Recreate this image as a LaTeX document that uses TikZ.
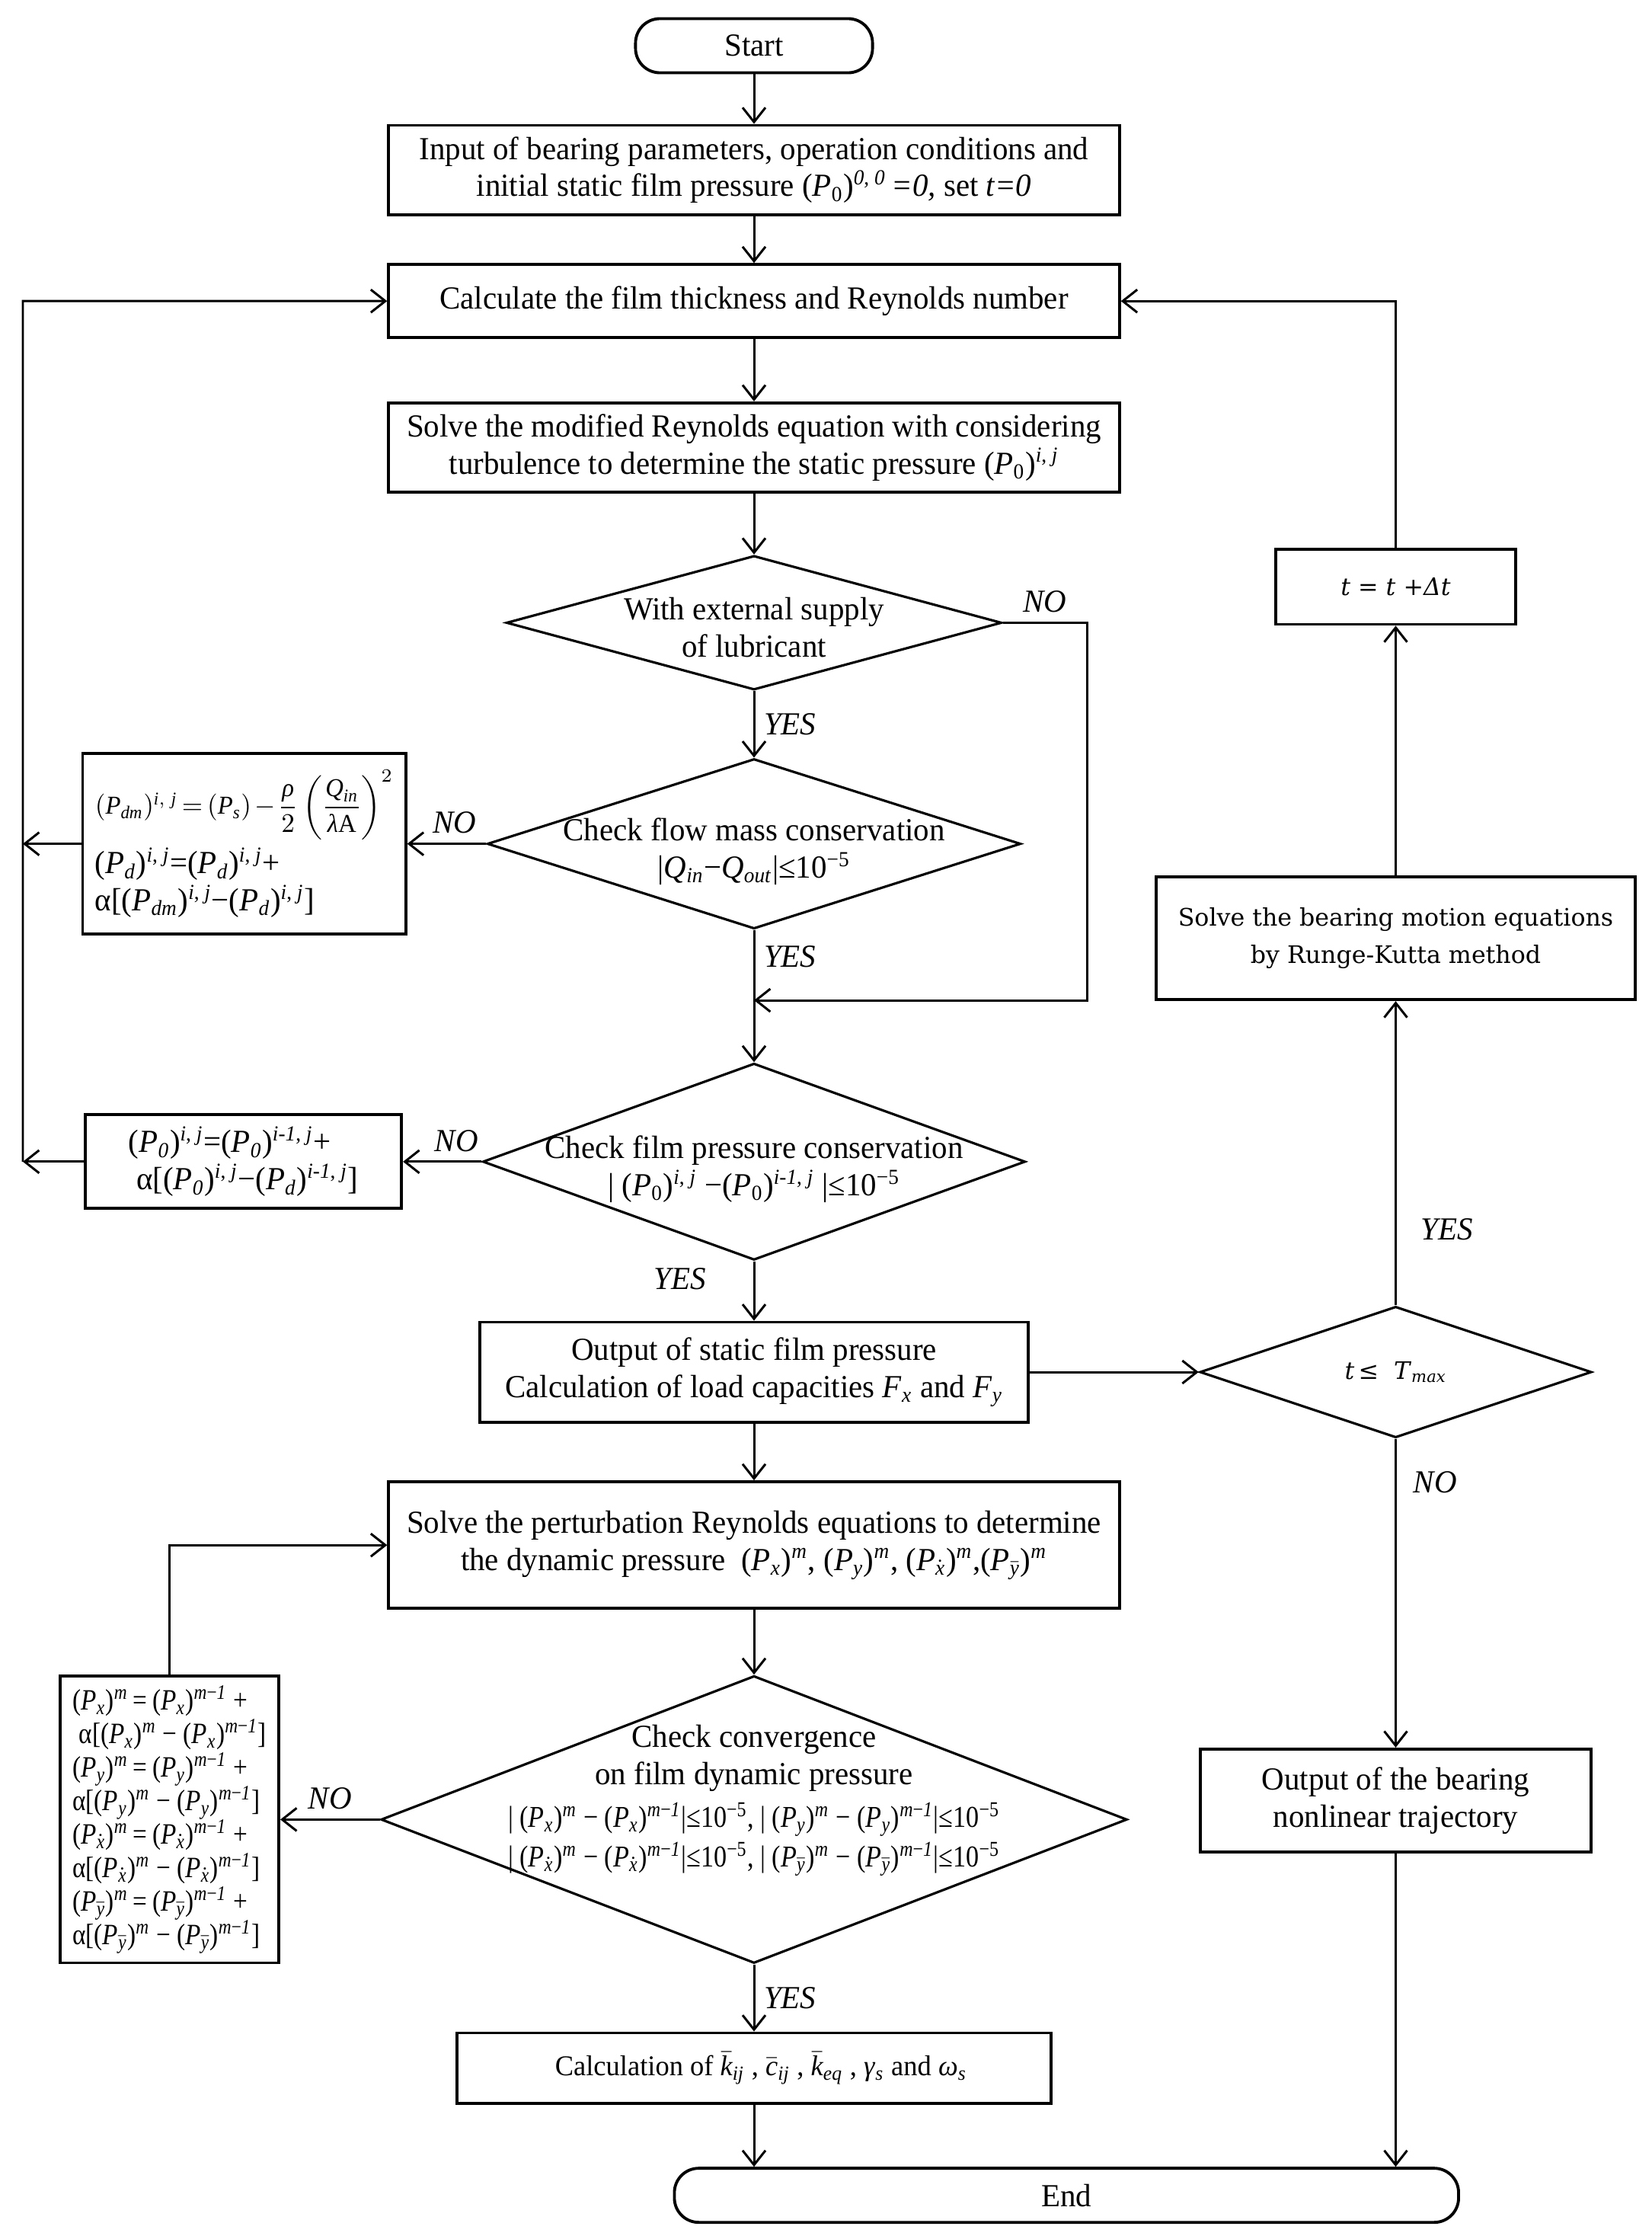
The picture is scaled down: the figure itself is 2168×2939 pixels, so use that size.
\documentclass[tikz,border=0pt]{standalone}
\usepackage{amsmath}
\usepackage{fontspec}
\setmainfont{Liberation Serif}[FakeStretch=0.97]
\newfontfamily\narrowfont{Liberation Serif}[FakeStretch=0.86]
\newfontfamily\rkfont{DejaVu Serif}
\usetikzlibrary{shapes.geometric,arrows.meta}

\newcommand{\mainsz}{\fontsize{12pt}{13.9pt}\selectfont}
\newcommand{\frmsz}{\narrowfont\fontsize{11.3pt}{15pt}\selectfont}
\newcommand{\Pp}[1]{(\textit{P}\textsubscript{#1})}
\newcommand{\xd}{$\dot{\textit{x}}$}
\newcommand{\yb}{$\bar{\textit{y}}$}
\newcommand{\supij}{\textsuperscript{\textit{i}, \textit{j}}}
\newcommand{\supimj}{\textsuperscript{\textit{i-1}, \textit{j}}}
\newcommand{\msup}{\textsuperscript{\textit{m}}}
\newcommand{\mmsup}{\textsuperscript{\textit{m}−\textit{1}}}

\begin{document}
\begin{tikzpicture}[->,>={Straight Barb[length=1.9mm,width=3mm]},x=0.01cm,y=-0.01cm,
  line width=0.85pt,font=\mainsz,
  box/.style={draw,-,line width=1.1pt,align=center,minimum width=9.59cm,minimum height=1.17cm,inner sep=2pt},
  term/.style={draw,-,line width=1.1pt,rounded corners=3.2mm,minimum height=0.71cm},
  decision/.style={draw,-,shape=diamond,line width=0.9pt,inner sep=0pt},
  dtext/.style={align=center,inner sep=0pt},
  lbl/.style={font=\mainsz\itshape}]

\useasboundingbox (0,0) rectangle (2168,2939);

% main column
\node[term,minimum width=3.11cm](start) at (990,60){Start};
\node[box](input)[node distance=1.63cm,below of=start]{Input of bearing parameters, operation conditions and\\
  initial static film pressure \Pp{0}\textsuperscript{\textit{0}, \textit{0}}\,\textit{=0,} set \textit{t=0}};
\node[box,minimum height=0.96cm](calc)[node distance=1.72cm,below of=input]{Calculate the film thickness and Reynolds number};
\node[box](solve)[node distance=1.92cm,below of=calc]{Solve the modified Reynolds equation with considering\\
  turbulence to determine the static pressure \Pp{0}\supij};
\node[decision,minimum width=6.5cm,minimum height=1.76cm](ext)[node distance=2.3cm,below of=solve]{};
\node[dtext](extt) at ([yshift=-0.6mm]ext){With external supply\\of lubricant};
\node[decision,minimum width=7cm,minimum height=2.23cm](flow)[node distance=2.9cm,below of=ext]{};
\node[dtext](flowt) at ([yshift=-1mm]flow){Check flow mass conservation\\
  |\textit{Q}\textsubscript{\textit{in}}−\textit{Q}\textsubscript{\textit{out}}|≤10\textsuperscript{−5}};
\node[decision,minimum width=7.12cm,minimum height=2.58cm](film)[node distance=4.17cm,below of=flow]{};
\node[dtext](filmt) at ([yshift=-1mm]film){Check film pressure conservation\\
  | \Pp{0}\supij\ −\Pp{0}\supimj\ |≤10\textsuperscript{−5}};
\node[box,minimum width=7.2cm,minimum height=1.31cm](stat)[node distance=2.76cm,below of=film]{Output of static film pressure\\
  Calculation of load capacities \textit{F}\textsubscript{\textit{x}} and \textit{F}\textsubscript{\textit{y}}};
\node[box,minimum height=1.66cm](pert)[node distance=2.27cm,below of=stat]{Solve the perturbation Reynolds equations to determine\\
  the dynamic pressure \ \Pp{\textit{x}}\msup, \Pp{\textit{y}}\msup, \Pp{\xd}\msup,\Pp{\yb}\msup};
\node[decision,minimum width=9.79cm,minimum height=3.77cm](conv)[node distance=3.6cm,below of=pert]{};
\node[dtext](convt) at ([yshift=2.5mm]conv){Check convergence\\on film dynamic pressure\\[2pt]
  {\frmsz | \Pp{\textit{x}}\msup\ − \Pp{\textit{x}}\mmsup|≤10\textsuperscript{−5}, | \Pp{\textit{y}}\msup\ − \Pp{\textit{y}}\mmsup|≤10\textsuperscript{−5}}\\[1pt]
  {\frmsz | \Pp{\xd}\msup\ − \Pp{\xd}\mmsup|≤10\textsuperscript{−5}, | \Pp{\yb}\msup\ − \Pp{\yb}\mmsup|≤10\textsuperscript{−5}}};
\node[box,minimum width=7.8cm,minimum height=0.92cm,font=\fontsize{10.7pt}{13pt}\selectfont](coef)[node distance=3.26cm,below of=conv]{\ \ Calculation of
  $\bar{\textit{k}}$\textsubscript{\textit{ij}} , $\bar{\textit{c}}$\textsubscript{\textit{ij}} , $\bar{\textit{k}}$\textsubscript{\textit{eq}} ,
  \textit{γ}\textsubscript{\textit{s}} and \textit{ω}\textsubscript{\textit{s}}};
\node[term,minimum width=10.29cm](end)[node distance=1.67cm,below of=coef,xshift=4.1cm]{End};

% left column
\node[box,align=left,minimum width=4.24cm,minimum height=2.37cm,inner sep=1pt](dmbox)[node distance=6.69cm,left of=flow]{%
  {\fontsize{9.6pt}{12pt}\selectfont\medmuskip=2mu\thickmuskip=3mu
  $(\textit{P}_{\textit{dm}})^{\textit{i},\ \textit{j}} = (\textit{P}_{\textit{s}}) - \dfrac{\textit{ρ}}{2}\left(\dfrac{\textit{Q}_{\textit{in}}}{\textit{λ}\text{A}}\right)^{2}$}\\[2pt]
  \Pp{\textit{d}}\supij=\Pp{\textit{d}}\supij+\\
  α[\Pp{\textit{dm}}\supij−\Pp{\textit{d}}\supij]};
\node[box,align=left,minimum width=4.15cm,minimum height=1.23cm](p0box)[node distance=6.7cm,left of=film]{%
  \Pp{\textit{0}}\supij=\Pp{\textit{0}}\supimj+\\
  \ α[\Pp{\textit{0}}\supij−\Pp{\textit{d}}\supimj]};
\node[box,align=left,minimum width=2.87cm,minimum height=3.76cm,font=\narrowfont\fontsize{11pt}{12.5pt}\selectfont](pbox)[node distance=7.67cm,left of=conv]{%
  \Pp{\textit{x}}\msup\,=\,\Pp{\textit{x}}\mmsup\ +\\
  \ α[\Pp{\textit{x}}\msup\ − \Pp{\textit{x}}\mmsup]\\
  \Pp{\textit{y}}\msup\,=\,\Pp{\textit{y}}\mmsup\ +\\
  α[\Pp{\textit{y}}\msup\ − \Pp{\textit{y}}\mmsup]\\
  \Pp{\xd}\msup\,=\,\Pp{\xd}\mmsup\ +\\
  α[\Pp{\xd}\msup\ − \Pp{\xd}\mmsup]\\
  \Pp{\yb}\msup\,=\,\Pp{\yb}\mmsup\ +\\
  α[\Pp{\yb}\msup\ − \Pp{\yb}\mmsup]};

% right column
\node[decision,minimum width=5.14cm,minimum height=1.72cm](tmax)[node distance=8.42cm,right of=stat]{};
\node[dtext,font=\rkfont\fontsize{9pt}{13pt}\selectfont](tmaxt) at (tmax){\textit{t}\,≤\ \ \textit{T}\textsubscript{\textit{max}}};
\node[box,minimum width=6.29cm,minimum height=1.61cm,font=\rkfont\fontsize{9pt}{13.8pt}\selectfont](rk)[node distance=5.69cm,above of=tmax]{Solve the bearing motion equations\\by Runge-Kutta method};
\node[box,minimum width=3.14cm,minimum height=0.98cm,font=\rkfont\fontsize{9pt}{13pt}\selectfont](tinc)[node distance=4.61cm,above of=rk]{\textit{t} = \textit{t} +\textit{Δt}};
\node[box,minimum width=5.12cm,minimum height=1.35cm](traj)[node distance=5.62cm,below of=tmax]{Output of the bearing\\nonlinear trajectory};

\coordinate(lbus) at (30,395);
\coordinate(nobus) at (1427,1313);
\coordinate(merge) at (990,1313);

\path(start)edge(input)
  (input)edge(calc)
  (calc)edge(solve)
  (solve)edge(ext)
  (ext)edge node[lbl,right]{YES}(flow)
  (flow)edge node[lbl,right,pos=0.2]{YES}(film)
  (film)edge node[lbl,left=5mm,pos=0.3]{YES}(stat)
  (stat)edge(pert)
  (pert)edge(conv)
  (conv)edge node[lbl,right]{YES}(coef)
  (flow)edge node[lbl,above,pos=0.4]{NO}(dmbox)
  (film)edge node[lbl,above,pos=0.32]{NO}(p0box)
  (conv)edge node[lbl,above]{NO}(pbox)
  (stat)edge(tmax)
  (tmax)edge node[lbl,right=2mm,pos=0.25]{YES}(rk)
  (rk)edge(tinc)
  (tmax)edge node[lbl,right=1mm,pos=0.14]{NO}(traj);

\draw(ext.east)-|(nobus)--(merge);
\path(ext.east)--(ext.east-|nobus)node[lbl,midway,above]{NO};
\draw(dmbox.west)--(dmbox.west-|lbus);
\draw(p0box.west)--(p0box.west-|lbus);
\draw(p0box.west-|lbus)--(lbus)--(calc.west);
\draw(tinc.north)--(tinc.north|-calc.east)--(calc.east);
\draw(pbox.north)|-(pert.west);
\draw(coef.south)--(coef.south|-end.north);
\draw(traj.south)--(traj.south|-end.north);

\end{tikzpicture}
\end{document}
